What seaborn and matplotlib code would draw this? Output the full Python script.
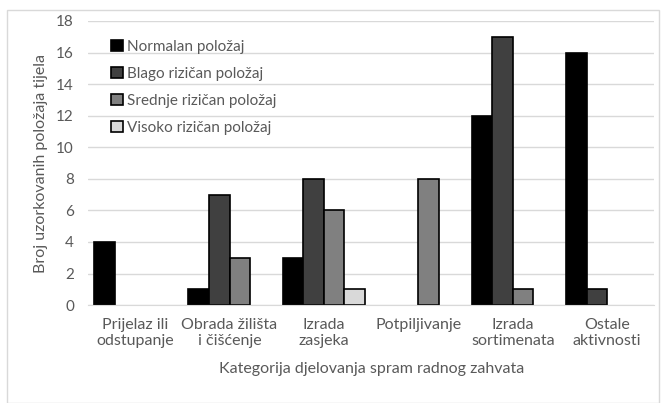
import matplotlib.pyplot as plt
import seaborn as sns
import pandas as pd
from matplotlib.patches import Rectangle

categories = ['Prijelaz ili\nodstupanje', 'Obrada žilišta\ni čišćenje', 'Izrada\nzasjeka',
              'Potpiljivanje', 'Izrada\nsortimenata', 'Ostale\naktivnosti']
series = ['Normalan položaj', 'Blago rizičan položaj', 'Srednje rizičan položaj', 'Visoko rizičan položaj']
normalan = [4, 1, 3, 0, 12, 16]
blago = [0, 7, 8, 0, 17, 1]
srednje = [0, 3, 6, 8, 1, 0]
visoko = [0, 0, 1, 0, 0, 0]
colors = ['#000000', '#404040', '#808080', '#d9d9d9']

rows = []
for name, vals in zip(series, [normalan, blago, srednje, visoko]):
    for cat, v in zip(categories, vals):
        rows.append({'kategorija': cat, 'serija': name, 'broj': v})
df = pd.DataFrame(rows)

sns.set_style('white')
plt.rcParams['font.family'] = ['Lato', 'DejaVu Sans']
text_col = '#595959'

fig = plt.figure(figsize=(6.61, 4.03), dpi=100)
ax = fig.add_axes([0.133, 0.243, 0.857, 0.705])

sns.barplot(data=df, x='kategorija', y='broj', hue='serija', order=categories, hue_order=series,
            palette=colors, width=0.87, edgecolor='black', linewidth=1.2, ax=ax, legend=True)

# Excel draws nothing for zero-height bars
for p in ax.patches:
    if p.get_height() == 0:
        p.set_linewidth(0)

ax.set_ylim(0, 18)
ax.set_yticks(range(0, 19, 2))
ax.yaxis.grid(True, color='#d9d9d9', linewidth=1)
ax.set_axisbelow(True)
for s in ['top', 'right', 'left']:
    ax.spines[s].set_visible(False)
ax.spines['bottom'].set_color('#d9d9d9')
ax.tick_params(axis='y', length=0, labelsize=11, colors=text_col, pad=10)
ax.tick_params(axis='x', length=0, labelsize=11.5, colors=text_col, pad=9)
ax.set_xlabel('Kategorija djelovanja spram radnog zahvata', fontsize=11.5, color=text_col, labelpad=10)
ax.set_ylabel('Broj uzorkovanih položaja tijela', fontsize=11.5, color=text_col, labelpad=6)

leg = ax.legend(loc='upper left', bbox_to_anchor=(0.025, 0.965), frameon=False, fontsize=11,
                labelspacing=0.85, handlelength=0.75, handleheight=0.75, handletextpad=0.25,
                borderaxespad=0.2)
for t in leg.get_texts():
    t.set_color(text_col)
for h in leg.legend_handles:
    h.set_edgecolor('black')
    h.set_linewidth(1.2)

fig.patches.append(Rectangle((0.011, 0.0), 0.986, 0.975, transform=fig.transFigure,
                             fill=False, edgecolor='#d9d9d9', linewidth=1))

fig.savefig('out.png', dpi=100)
